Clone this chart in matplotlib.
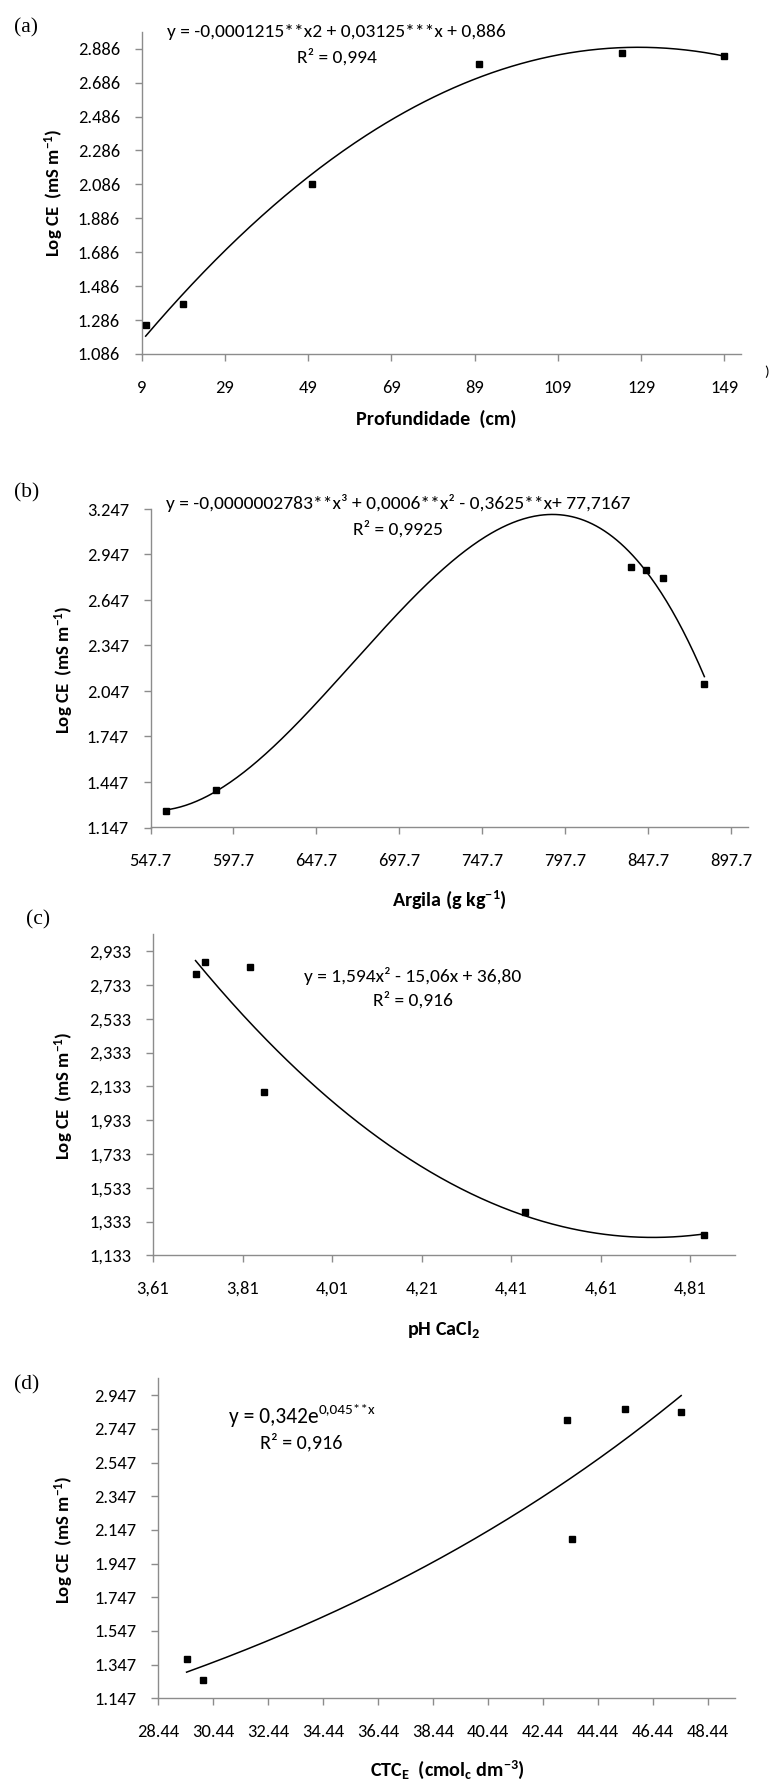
import numpy as np
import matplotlib
matplotlib.use("Agg")
import matplotlib.pyplot as plt
from matplotlib import font_manager as fm

# ---------------- data ----------------
depth = [10, 19, 50, 90, 124.5, 149]
logce_a = [1.257, 1.383, 2.091, 2.797, 2.860, 2.842]

argila = [556.8, 587.3, 881.7, 856.9, 837.7, 846.3]
logce_b = [1.257, 1.394, 2.096, 2.795, 2.866, 2.846]

ph = [3.705, 3.727, 3.826, 3.857, 4.441, 4.84]
logce_c = [2.797, 2.871, 2.840, 2.099, 1.391, 1.251]

ctc = [29.47, 30.07, 43.33, 43.51, 45.42, 47.48]
logce_d = [1.380, 1.256, 2.799, 2.090, 2.864, 2.844]

xt_a = [9, 29, 49, 69, 89, 109, 129, 149]
yt_a = [1.086, 1.286, 1.486, 1.686, 1.886, 2.086, 2.286, 2.486, 2.686, 2.886]
xt_b = [547.7, 597.7, 647.7, 697.7, 747.7, 797.7, 847.7, 897.7]
yt_b = [1.147, 1.447, 1.747, 2.047, 2.347, 2.647, 2.947, 3.247]
xt_c = [3.61, 3.81, 4.01, 4.21, 4.41, 4.61, 4.81]
yt_c = [1.133, 1.333, 1.533, 1.733, 1.933, 2.133, 2.333, 2.533, 2.733, 2.933]
xt_d = [28.44, 30.44, 32.44, 34.44, 36.44, 38.44, 40.44, 42.44, 44.44, 46.44, 48.44]
yt_d = [1.147, 1.347, 1.547, 1.747, 1.947, 2.147, 2.347, 2.547, 2.747, 2.947]

eq_a = "y = -0,0001215**x2 + 0,03125***x + 0,886"
r2_a = "R² = 0,994"
eq_b = "y = -0,0000002783**x³ + 0,0006**x² - 0,3625**x+ 77,7167"
r2_b = "R² = 0,9925"
eq_c = "y = 1,594x² - 15,06x + 36,80"
r2_c = "R² = 0,916"
eq_d_base = "y = 0,342e"
eq_d_exp = "0,045**x"
r2_d = "R² = 0,916"

ylabel_txt = r"Log CE  (mS m$^{\mathbf{-1}}$)"
xl_a = "Profundidade  (cm)"
xl_b = r"Argila (g kg$^{\mathbf{-1}}$)"
xl_c = r"pH CaCl$_{\mathbf{2}}$"
xl_d = r"CTC$_{\mathbf{E}}$  (cmol$_{\mathbf{c}}$ dm$^{\mathbf{-3}}$)"

# ---------------- fonts ----------------
avail = {f.name for f in fm.fontManager.ttflist}


def pick(cands):
    for c in cands:
        if c in avail:
            return c
    return 'DejaVu Sans'


CAL = pick(['Carlito', 'Liberation Sans'])
SER = pick(['Liberation Serif', 'DejaVu Serif'])
SANS = [CAL, 'DejaVu Sans']
SERIF = [SER, 'DejaVu Serif']

plt.rcParams['font.family'] = SANS
plt.rcParams['mathtext.fontset'] = 'custom'
plt.rcParams['mathtext.rm'] = CAL
plt.rcParams['mathtext.it'] = CAL + ':italic'
plt.rcParams['mathtext.bf'] = CAL + ':bold'

TICK_FS = 13.3
EQ_FS = 14
XL_FS = 14.5
YL_FS = 13.5
PL_FS = 15.5

GRAY = '#8c8c8c'
W, H = 769, 1785
fig = plt.figure(figsize=(W / 100, H / 100), dpi=100)


def make_ax(l, r, t, b):
    return fig.add_axes([l / W, 1 - b / H, (r - l) / W, (b - t) / H])


def style(ax, xt, yt, xfmt, yfmt, xlim, ylim):
    ax.set_xlim(*xlim)
    ax.set_ylim(*ylim)
    ax.set_xticks(xt)
    ax.set_yticks(yt)
    ax.set_xticklabels([xfmt(v) for v in xt])
    ax.set_yticklabels([yfmt(v) for v in yt])
    for s in ['top', 'right']:
        ax.spines[s].set_visible(False)
    for s in ['left', 'bottom']:
        ax.spines[s].set_color(GRAY)
        ax.spines[s].set_linewidth(1.0)
    ax.tick_params(axis='both', direction='out', length=5, width=1.0,
                   color=GRAY, labelcolor='black', labelsize=TICK_FS)
    ax.tick_params(axis='y', pad=10.5)
    ax.tick_params(axis='x', pad=13.5)


def dot(v, nd):
    return f"{v:.{nd}f}"


def comma(v, nd):
    return f"{v:.{nd}f}".replace('.', ',')


def points(ax, x, y):
    ax.plot(x, y, linestyle='none', marker='s', ms=4.8, color='black',
            clip_on=False, zorder=3)


def ftext(x, y, s, fs, fam=SANS, va='baseline', **kw):
    return fig.text(x / W, 1 - y / H, s, ha='center', va=va, fontsize=fs, family=fam, **kw)


def ylab(xc, yc):
    fig.text(xc / W, 1 - yc / H, ylabel_txt, rotation=90, ha='center', va='center',
             fontsize=YL_FS, fontweight='bold', family=SANS)


def xlab(xc, yb, s):
    ftext(xc, yb, s, XL_FS, fontweight='bold')


# ---------------- (a) ----------------
ax = make_ax(141.5, 741, 31.7, 354)
style(ax, xt_a, yt_a, lambda v: f"{v:d}", lambda v: dot(v, 3),
      (9, 153), (1.086, 2.986))
xa = np.asarray(depth, float)
ca = np.polyfit(xa, logce_a, 2)
xs = np.linspace(xa.min(), xa.max(), 300)
ax.plot(xs, np.polyval(ca, xs), color='black', lw=1.1, clip_on=False)
points(ax, depth, logce_a)
ylab(54, 193)
xlab(436, 425, xl_a)
ftext(336, 37.3, eq_a, EQ_FS)
ftext(336.7, 62.7, r2_a, EQ_FS)
ftext(26, 27.5, "(a)", PL_FS, SERIF, va='center')
fig.text(764 / W, 1 - 372 / H, ")", ha='left', va='center', fontsize=11, family=SANS)

# ---------------- (b) ----------------
ax = make_ax(150.5, 747.5, 509, 827.5)
style(ax, xt_b, yt_b, lambda v: dot(v, 1), lambda v: dot(v, 3),
      (547.7, 907.7), (1.147, 3.247))
xb = np.asarray(argila, float)
cb = np.polyfit(xb, logce_b, 3)
xs = np.linspace(xb.min(), xb.max(), 400)
ax.plot(xs, np.polyval(cb, xs), color='black', lw=1.1, clip_on=False)
points(ax, argila, logce_b)
ylab(64, 670)
xlab(449, 905.7, xl_b)
ftext(398.5, 509.5, eq_b, EQ_FS)
ftext(397.6, 534.5, r2_b, EQ_FS)
ftext(27, 493.3, "(b)", PL_FS, SERIF, va='center')

# ---------------- (c) ----------------
ax = make_ax(153, 735, 934.3, 1255.3)
style(ax, xt_c, yt_c, lambda v: comma(v, 2), lambda v: comma(v, 3),
      (3.61, 4.91), (1.133, 3.033))
xc = np.asarray(ph, float)
cc = np.polyfit(xc, logce_c, 2)
xs = np.linspace(xc.min(), xc.max(), 300)
ax.plot(xs, np.polyval(cc, xs), color='black', lw=1.1, clip_on=False)
points(ax, ph, logce_c)
ylab(64, 1095.7)
xlab(444, 1335, xl_c)
ftext(413, 982, eq_c, EQ_FS)
ftext(413, 1005.5, r2_c, EQ_FS)
ftext(38, 920, "(c)", PL_FS, SERIF, va='center')

# ---------------- (d) ----------------
ax = make_ax(158.3, 735, 1378.3, 1698.3)
style(ax, xt_d, yt_d, lambda v: dot(v, 2), lambda v: dot(v, 3),
      (28.44, 49.44), (1.147, 3.047))
xd = np.asarray(ctc, float)
cd = np.polyfit(xd, np.log(logce_d), 1)
xs = np.linspace(xd.min(), xd.max(), 300)
ax.plot(xs, np.exp(np.polyval(cd, xs)), color='black', lw=1.1, clip_on=False)
points(ax, ctc, logce_d)
ylab(64, 1540)
xlab(447, 1775.7, xl_d)

# equation with exponent: base text + smaller raised text, centred as a whole
renderer = fig.canvas.get_renderer()
t_base = fig.text(0, 1 - 1423 / H, eq_d_base, ha='left', va='baseline',
                  fontsize=15.5, family=SANS)
t_exp = fig.text(0, 1 - (1423 - 10) / H, eq_d_exp, ha='left', va='baseline',
                 fontsize=11, family=SANS)
wb = t_base.get_window_extent(renderer).width
we = t_exp.get_window_extent(renderer).width
x0 = 302.5 - (wb + we) / 2
t_base.set_x(x0 / W)
t_exp.set_x((x0 + wb) / W)
ftext(301.5, 1448.5, r2_d, 14.5)
ftext(27, 1385, "(d)", PL_FS, SERIF, va='center')

fig.savefig("out.png", dpi=100)
